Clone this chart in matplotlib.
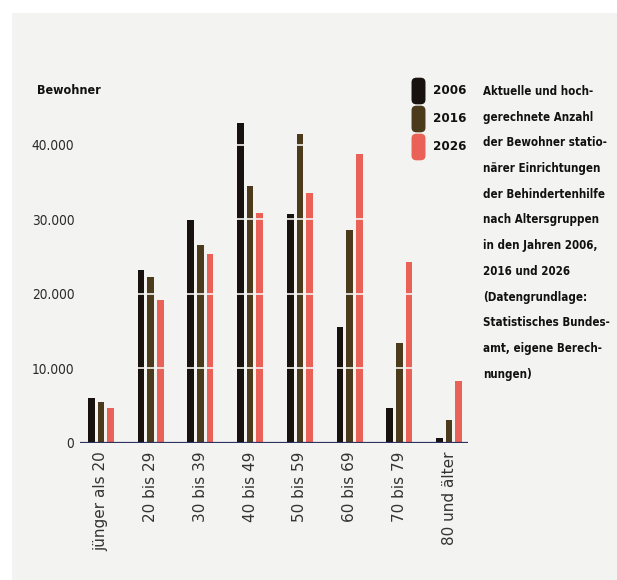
import numpy as np
import matplotlib.pyplot as plt
from matplotlib.patches import FancyBboxPatch, Rectangle

categories = ["jünger als 20", "20 bis 29", "30 bis 39", "40 bis 49",
              "50 bis 59", "60 bis 69", "70 bis 79", "80 und älter"]
years = ["2006", "2016", "2026"]
v2006 = [6000, 23200, 29900, 42900, 30700, 15500, 4700, 700]
v2016 = [5500, 22200, 26600, 34500, 41400, 28600, 13400, 3100]
v2026 = [4700, 19200, 25400, 30800, 33500, 38700, 24300, 8300]
yticks = [0, 10000, 20000, 30000, 40000]
yticklabels = ["0", "10.000", "20.000", "30.000", "40.000"]
note = ("Aktuelle und hoch-\ngerechnete Anzahl\nder Bewohner statio-\nnärer Einrichtungen\n"
        "der Behindertenhilfe\nnach Altersgruppen\nin den Jahren 2006,\n2016 und 2026\n"
        "(Datengrundlage:\nStatistisches Bundes-\namt, eigene Berech-\nnungen)")

colors = ["#17120e", "#4b3a1c", "#ea6257"]
bg = "#f3f3f1"
narrow = dict(family="DejaVu Sans", stretch="condensed")

W, H = 617, 580
fig = plt.figure(figsize=(W / 100, H / 100), dpi=100, facecolor="white")
fig.patches.append(Rectangle((12 / W, 0), 1, 1 - 13 / H, transform=fig.transFigure,
                             facecolor=bg, edgecolor="none", zorder=-5))

ax = fig.add_axes([80 / W, (H - 443) / H, (468 - 80) / W, (443 - 100) / H])
ax.patch.set_alpha(0)

x = np.arange(len(categories))
bw = 0.135
off = 0.195
for i, vals in enumerate([v2006, v2016, v2026]):
    ax.bar(x + (i - 1) * off, vals, width=bw, color=colors[i], zorder=2)

# light lines across the bars
for t in yticks[1:]:
    ax.axhline(t, color=bg, lw=1.2, zorder=3)
ax.axhline(0, color="#2d3360", lw=1.6, zorder=4)

ax.set_xlim(-0.42, 7.38)
ax.set_ylim(0, 46000)
ax.set_yticks(yticks)
ax.set_yticklabels(yticklabels, fontsize=9.8, color="#2a2a2a", **narrow)
ax.set_xticks(x)
ax.set_xticklabels(categories, rotation=90, fontsize=11, color="#333333", va="top")
ax.tick_params(axis="x", length=0, pad=6)
ax.tick_params(axis="y", length=0, pad=4)
for s in ax.spines.values():
    s.set_visible(False)

fig.text(37 / W, 1 - 90 / H, "Bewohner", fontweight="bold",
         fontsize=9, va="center", ha="left", color="#111111", **narrow)

# legend
for i, yr in enumerate(years):
    yc = 91 + i * 28
    fig.patches.append(FancyBboxPatch((414 / W, 1 - (yc + 11) / H), 9 / W, 22 / H,
                                      boxstyle="round,pad=0.004,rounding_size=0.008",
                                      transform=fig.transFigure, facecolor=colors[i],
                                      edgecolor="none", zorder=3))
    fig.text(433 / W, 1 - yc / H, yr, fontweight="bold", fontsize=9.5,
             va="center", ha="left", color="#111111", **narrow)

fig.text(483 / W, 1 - 85 / H, note, fontweight="bold", fontsize=8.3,
         va="top", ha="left", linespacing=2.27, color="#111111", **narrow)

fig.savefig("out.png", dpi=100, facecolor="white")
